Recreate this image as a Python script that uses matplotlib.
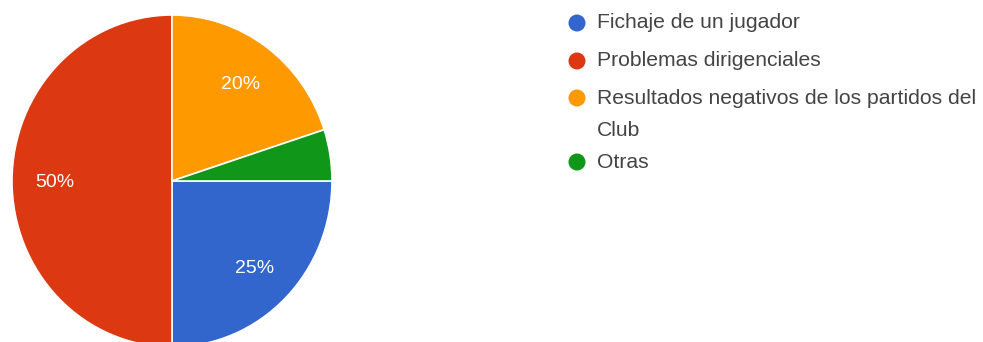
import matplotlib.pyplot as plt
from matplotlib.patches import Circle

# survey answers, in the order they appear in the legend
categories = ["Fichaje de un jugador",
              "Problemas dirigenciales",
              "Resultados negativos de los partidos del\nClub",
              "Otras"]
shares = [25, 50, 20, 5]
colors = ["#3366cc", "#dc3912", "#ff9900", "#109618"]

W, H = 983, 342
fig = plt.figure(figsize=(W / 100, H / 100), dpi=100)
plt.rcParams['font.family'] = ['Liberation Sans', 'DejaVu Sans']

# pie: centre ~(172,181) px, a touch taller than wide, bottom runs off the edge
ax = fig.add_axes([12 / W, -5 / H, 320 / W, 332 / H])
wedges, texts, autotexts = ax.pie(
    shares, colors=colors, startangle=0, counterclock=False,
    autopct=lambda p: f"{p:.0f}%" if p >= 10 else "", pctdistance=0.73,
    wedgeprops=dict(edgecolor="white", linewidth=1.2))
for t in autotexts:
    t.set_color("white")
    t.set_fontsize(14)
    t.set_va("center_baseline")
ax.set_xlim(-1, 1)
ax.set_ylim(-1, 1)
ax.set_aspect("auto")
ax.axis("off")

# legend drawn in pixel coordinates
lg = fig.add_axes([0, 0, 1, 1])
lg.set_xlim(0, W)
lg.set_ylim(H, 0)
lg.axis("off")
row_y = [23, 61, 98, 162]
line_gap = 33
for name, c, y in zip(categories, colors, row_y):
    lg.add_patch(Circle((577, y), 8.5, color=c, lw=0))
    # baseline alignment sits on the last line of a wrapped label
    lg.text(597, y + 5.5 + name.count("\n") * line_gap, name, fontsize=15.2,
            color="#444444", va="baseline", ha="left", linespacing=1.9)

fig.savefig("out.png", dpi=100, facecolor="white")
